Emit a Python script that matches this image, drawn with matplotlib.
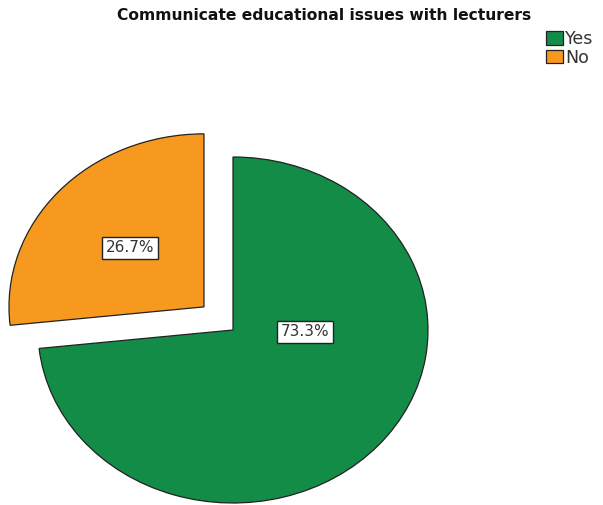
import matplotlib.pyplot as plt

categories = ["Yes", "No"]
percents = [73.3, 26.7]
colors = ["#138c48", "#f7991f"]
explode = [0, 0.2]
title = "Communicate educational issues with lecturers"

W, H = 603, 505
cx, cy = 233, 330      # pie centre in pixels
rx, ry = 195, 173      # pie radius in pixels (image is slightly stretched)

fig = plt.figure(figsize=(W / 100, H / 100), dpi=100)
ax = fig.add_axes([0, 0, 1, 1])

wedges, texts, autotexts = ax.pie(
    percents, colors=colors, explode=explode, startangle=90,
    counterclock=False, autopct="%1.1f%%", pctdistance=0.51,
    wedgeprops=dict(edgecolor="#222222", linewidth=0.9),
    textprops=dict(fontsize=11, color="#333333"),
)
ax.set_aspect("auto")
ax.set_xlim(-cx / rx, (W - cx) / rx)
ax.set_ylim(-(H - cy) / ry, cy / ry)

# SPSS puts the big slice label near the centre, right of the vertex
autotexts[0].set_position((0.37, -0.01))
for t in autotexts:
    t.set_ha("center")
    t.set_va("center")
    t.set_bbox(dict(facecolor="white", edgecolor="#222222", linewidth=1.0, pad=2.5))

fig.text(324 / W, 1 - 16 / H, title, ha="center", va="center",
         fontsize=11.2, fontweight="bold", color="#111111")

fig.legend(wedges, categories, loc="upper left",
           bbox_to_anchor=(546 / W, 1 - 30 / H), frameon=False,
           fontsize=12.5, handlelength=1.0, handleheight=0.8,
           handletextpad=0.1, labelspacing=0.05, borderpad=0, borderaxespad=0,
           labelcolor="#333333")

fig.savefig("out.png", dpi=100)
